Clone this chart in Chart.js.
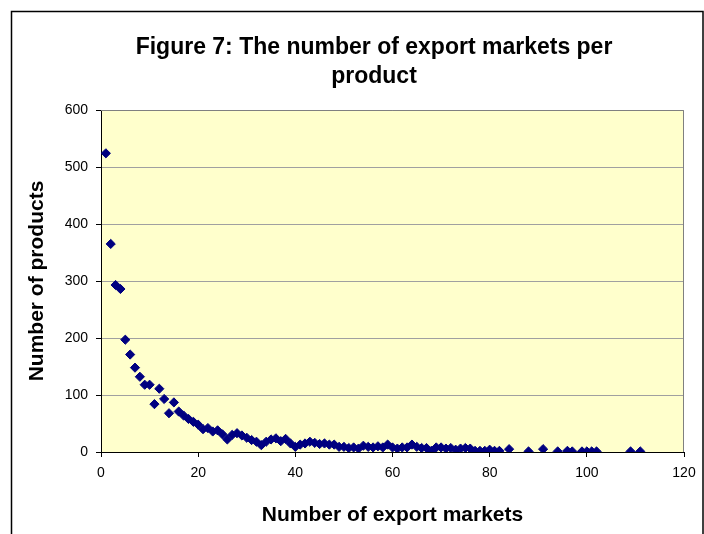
<!DOCTYPE html>
<html>
<head>
<meta charset="utf-8">
<title>Figure 7: The number of export markets per product</title>
<script src="https://cdn.jsdelivr.net/npm/chart.js@4"></script>
<style>
  html, body { margin: 0; padding: 0; background: #ffffff; }
  #wrap { width: 704px; height: 534px; }
</style>
</head>
<body>
<div id="wrap"><canvas id="chart" width="704" height="534"></canvas></div>
<script>
// Number of export markets a product is sold to (x)
const markets = [
  1, 2, 3, 4, 5, 6, 7, 8, 9, 10,
  11, 12, 13, 14, 15, 16, 17, 18, 19, 20,
  21, 22, 23, 24, 25, 26, 27, 28, 29, 30,
  31, 32, 33, 34, 35, 36, 37, 38, 39, 40,
  41, 42, 43, 44, 45, 46, 47, 48, 49, 50,
  51, 52, 53, 54, 55, 56, 57, 58, 59, 60,
  61, 62, 63, 64, 65, 66, 67, 68, 69, 70,
  71, 72, 73, 74, 75, 76, 77, 78, 79, 80,
  81, 82, 84, 88, 91, 94, 96, 97, 99, 100,
  101, 102, 109, 111
];

// Number of products with that many export markets (y)
const products = [
  524, 365, 293, 286, 197, 171, 148, 132, 118, 118,
  84, 111, 93, 68, 87, 71, 64, 58, 53, 48,
  40, 42, 36, 38, 31, 22, 30, 33, 29, 25,
  21, 18, 12, 18, 22, 24, 19, 23, 15, 9,
  13, 15, 18, 16, 14, 15, 13, 13, 9, 9,
  7, 8, 6, 11, 9, 8, 10, 8, 13, 8,
  6, 8, 8, 13, 9, 7, 7, 2, 8, 8,
  6, 7, 4, 6, 7, 6, 2, 2, 2, 4,
  2, 2, 5, 1, 5, 1, 2, 1, 1, 1,
  1, 1, 1, 1
];

const titleLines = ['Figure 7: The number of export markets per', 'product'];
const xTitle = 'Number of export markets';
const yTitle = 'Number of products';

const points = markets.map((m, i) => ({ x: m, y: products[i] }));

const FONT = 'Liberation Sans, Arial, Helvetica, sans-serif';

// Pale yellow plot background with a grey frame, plus the outer chart border
const frame = {
  id: 'frame',
  beforeDraw(chart) {
    const { ctx, chartArea: a } = chart;
    ctx.save();
    ctx.fillStyle = '#ffffcc';
    ctx.fillRect(a.left, a.top, a.right - a.left, a.bottom - a.top);
    ctx.restore();
  },
  beforeDatasetsDraw(chart) {
    const { ctx, chartArea: a } = chart;
    ctx.save();
    ctx.strokeStyle = '#808080';
    ctx.lineWidth = 1;
    ctx.beginPath();
    ctx.moveTo(a.left, a.top + 0.5);
    ctx.lineTo(a.right - 0.5, a.top + 0.5);
    ctx.lineTo(a.right - 0.5, a.bottom);
    ctx.stroke();
    ctx.restore();
  },
  afterDraw(chart) {
    const { ctx } = chart;
    ctx.save();
    ctx.strokeStyle = '#000000';
    ctx.lineWidth = 1.5;
    ctx.strokeRect(11.5, 11.5, 691.5, 600);
    ctx.restore();
  }
};

new Chart(document.getElementById('chart'), {
  type: 'scatter',
  data: {
    datasets: [{
      label: yTitle,
      data: points,
      pointStyle: 'rectRot',
      pointRadius: 4.6,
      pointHoverRadius: 4.6,
      backgroundColor: '#000080',
      borderColor: '#000080',
      borderWidth: 1
    }]
  },
  options: {
    responsive: false,
    animation: false,
    devicePixelRatio: 1,
    layout: { padding: { top: 110, right: 20, bottom: 0, left: 0 } },
    plugins: {
      legend: { display: false },
      tooltip: { enabled: false },
      title: { display: false }
    },
    scales: {
      x: {
        type: 'linear',
        min: 0,
        max: 120,
        afterFit(scale) { scale.height = 82; },
        ticks: {
          stepSize: 20,
          color: '#000000',
          padding: 8,
          font: { family: FONT, size: 14 }
        },
        grid: {
          drawOnChartArea: false,
          drawTicks: true,
          tickLength: 5,
          tickColor: '#000000'
        },
        border: { color: '#000000', width: 1 },
        title: {
          display: true,
          text: xTitle,
          color: '#000000',
          font: { family: FONT, size: 21, weight: 'bold' },
          padding: { top: 0, bottom: 6 }
        }
      },
      y: {
        type: 'linear',
        min: 0,
        max: 600,
        afterFit(scale) { scale.width = 101; },
        ticks: {
          stepSize: 100,
          color: '#000000',
          padding: 8,
          font: { family: FONT, size: 14 }
        },
        grid: {
          color: '#a0a0a0',
          lineWidth: 1,
          drawTicks: true,
          tickLength: 5,
          tickColor: '#000000'
        },
        border: { color: '#000000', width: 1 },
        title: {
          display: true,
          text: yTitle,
          color: '#000000',
          font: { family: FONT, size: 21, weight: 'bold' },
          padding: { top: 25, bottom: 0 }
        }
      }
    }
  },
  plugins: [frame, {
    id: 'chartTitle',
    afterDraw(chart) {
      const { ctx } = chart;
      ctx.save();
      ctx.fillStyle = '#000000';
      ctx.font = 'bold 23px ' + FONT;
      ctx.textAlign = 'center';
      ctx.textBaseline = 'middle';
      ctx.fillText(titleLines[0], 374, 48);
      ctx.fillText(titleLines[1], 374, 77);
      ctx.restore();
    }
  }]
});
</script>
</body>
</html>
